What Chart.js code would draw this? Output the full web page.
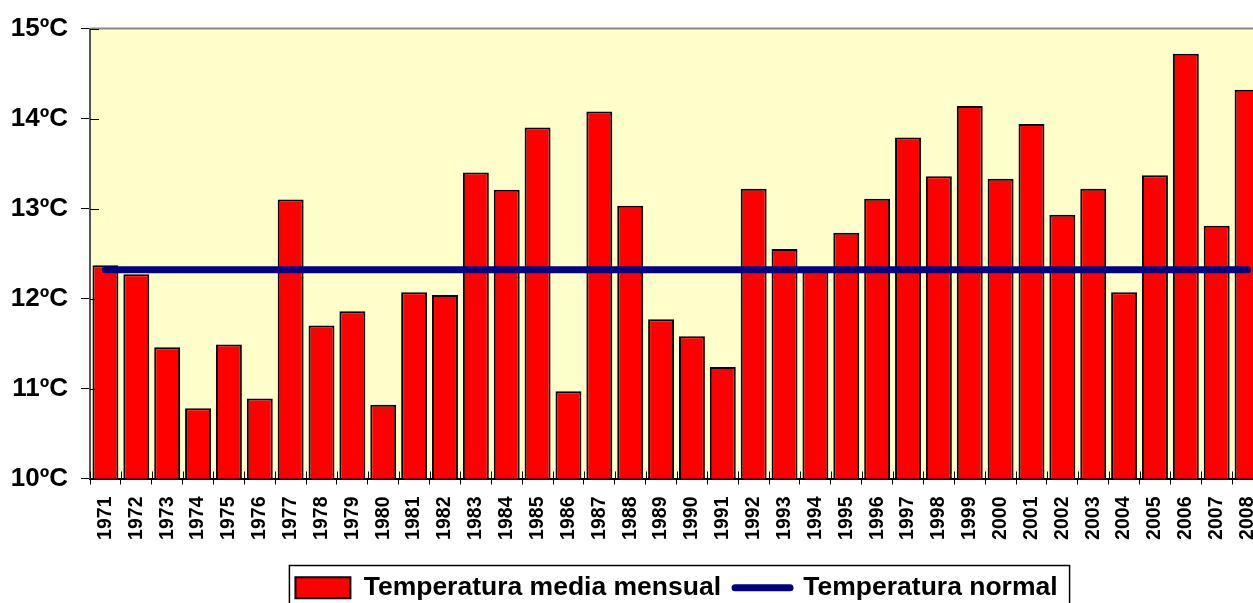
<!DOCTYPE html>
<html>
<head>
<meta charset="utf-8">
<script src="https://cdn.jsdelivr.net/npm/chart.js@4.4.1/dist/chart.umd.min.js"></script>
<style>
	html, body { margin: 0; padding: 0; background: #fff; overflow: hidden; }
	#wrap { width: 1264px; height: 611px; }
</style>
</head>
<body>
<div id="wrap"><canvas id="chart"></canvas></div>
<script>
	// years on the x axis
	var years = ['1971', '1972', '1973', '1974', '1975', '1976', '1977', '1978', '1979', '1980',
		'1981', '1982', '1983', '1984', '1985', '1986', '1987', '1988', '1989', '1990',
		'1991', '1992', '1993', '1994', '1995', '1996', '1997', '1998', '1999', '2000',
		'2001', '2002', '2003', '2004', '2005', '2006', '2007', '2008'];

	// yearly mean temperature (ºC)
	var mediaMensual = [12.37, 12.27, 11.46, 10.78, 11.49, 10.89, 13.10, 11.70, 11.86, 10.82,
		12.07, 12.04, 13.40, 13.21, 13.90, 10.97, 14.08, 13.03, 11.77, 11.58,
		11.24, 13.22, 12.55, 12.35, 12.73, 13.11, 13.79, 13.36, 14.14, 13.33,
		13.94, 12.93, 13.22, 12.07, 13.37, 14.72, 12.81, 14.32];

	// normal temperature, flat line
	var normal = [12.32, 12.32, 12.32, 12.32, 12.32, 12.32, 12.32, 12.32, 12.32, 12.32,
		12.32, 12.32, 12.32, 12.32, 12.32, 12.32, 12.32, 12.32, 12.32, 12.32,
		12.32, 12.32, 12.32, 12.32, 12.32, 12.32, 12.32, 12.32, 12.32, 12.32,
		12.32, 12.32, 12.32, 12.32, 12.32, 12.32, 12.32, 12.32];

	var yMin = 10;
	var yMax = 15;
	var yUnit = 'ºC';

	var seriesNames = ['Temperatura media mensual', 'Temperatura normal'];

	var FONT = "'Liberation Sans', Arial, sans-serif";

	/**
	 * plot background, frame, inner tick marks and legend box
	 */
	var plotDecor = {
		id: 'plotDecor',
		beforeDraw: function(chart) {
			var ctx = chart.ctx;
			var a = chart.chartArea;
			ctx.save();
			ctx.fillStyle = '#FFFFCC';
			ctx.fillRect(a.left, a.top, a.right - a.left, a.bottom - a.top);
			ctx.restore();
		},
		beforeDatasetsDraw: function(chart) {
			var ctx = chart.ctx;
			var a = chart.chartArea;
			ctx.save();
			// top frame line
			ctx.strokeStyle = '#888888';
			ctx.lineWidth = 2;
			ctx.beginPath();
			ctx.moveTo(a.left, a.top);
			ctx.lineTo(a.right, a.top);
			ctx.stroke();
			// tick marks crossing into the plot
			ctx.strokeStyle = '#000';
			ctx.lineWidth = 1;
			var y = chart.scales.y;
			y.ticks.forEach(function(t) {
				var py = Math.round(y.getPixelForValue(t.value)) + 0.5;
				ctx.beginPath();
				ctx.moveTo(a.left, py);
				ctx.lineTo(a.left + 9, py);
				ctx.stroke();
			});
			var x = chart.scales.x;
			var step = x.getPixelForValue(1) - x.getPixelForValue(0);
			for (var i = 0; i <= years.length; i++) {
				var px = Math.round(x.getPixelForValue(i) - step / 2) + 0.5;
				ctx.beginPath();
				ctx.moveTo(px, a.bottom);
				ctx.lineTo(px, a.bottom - 7);
				ctx.stroke();
			}
			ctx.restore();
		},
		afterDraw: function(chart) {
			var hb = chart.legend.legendHitBoxes;
			if (!hb || !hb.length) {
				return;
			}
			var last = hb[hb.length - 1];
			var left = hb[0].left - 6;
			var right = last.left + last.width + 12;
			var top = hb[0].top - 9;
			var bottom = hb[0].top + hb[0].height + 12;
			var ctx = chart.ctx;
			ctx.save();
			ctx.strokeStyle = '#000';
			ctx.lineWidth = 1.5;
			ctx.strokeRect(left, top, right - left, bottom - top);
			ctx.restore();
		}
	};

	var ctx = document.getElementById('chart');
	var chart = new Chart(ctx, {
		data: {
			labels: years,
			datasets: [
				{
					type: 'bar',
					label: seriesNames[0],
					data: mediaMensual,
					backgroundColor: '#FF0000',
					borderColor: '#000000',
					borderWidth: 2,
					barPercentage: 0.84,
					categoryPercentage: 1.0,
					order: 2
				},
				{
					type: 'line',
					label: seriesNames[1],
					data: normal,
					borderColor: '#000080',
					backgroundColor: '#000080',
					borderWidth: 7,
					borderCapStyle: 'round',
					pointRadius: 0,
					pointHoverRadius: 0,
					fill: false,
					order: 1
				}
			]
		},
		options: {
			responsive: true,
			maintainAspectRatio: false,
			animation: false,
			events: [],
			layout: {
				padding: { left: 0, top: 28, right: 1, bottom: 0 }
			},
			scales: {
				x: {
					type: 'category',
					offset: true,
					grid: {
						offset: true,
						drawOnChartArea: false,
						tickLength: 6,
						tickColor: '#000'
					},
					border: { color: '#000', width: 2 },
					ticks: {
						autoSkip: false,
						minRotation: 90,
						maxRotation: 90,
						padding: 12,
						color: '#000',
						font: { family: FONT, weight: 'bold', size: 19.5 }
					},
					afterFit: function(scale) {
						scale.height = 82;
						scale.paddingLeft = 0;
						scale.paddingRight = 0;
					}
				},
				y: {
					min: yMin,
					max: yMax,
					grid: {
						drawOnChartArea: false,
						tickLength: 9,
						tickColor: '#000'
					},
					border: { color: '#555', width: 2 },
					ticks: {
						stepSize: 1,
						padding: 13,
						color: '#000',
						font: { family: FONT, weight: 'bold', size: 26 },
						callback: function(v) {
							return v + yUnit;
						}
					},
					afterFit: function(scale) {
						scale.width = 90;
					}
				}
			},
			plugins: {
				tooltip: { enabled: false },
				legend: {
					position: 'bottom',
					fullSize: false,
					labels: {
						usePointStyle: true,
						pointStyleWidth: 55,
						boxHeight: 21,
						padding: 14,
						color: '#000',
						font: { family: FONT, weight: 'bold', size: 26.5 },
						generateLabels: function(chart) {
							var items = Chart.defaults.plugins.legend.labels.generateLabels(chart);
							items.sort(function(a, b) { return a.datasetIndex - b.datasetIndex; });
							items.forEach(function(item) {
								if (chart.data.datasets[item.datasetIndex].type === 'line') {
									item.pointStyle = 'line';
									item.lineCap = 'round';
								} else {
									item.pointStyle = 'rect';
								}
							});
							return items;
						}
					}
				}
			}
		},
		plugins: [plotDecor]
	});
</script>
</body>
</html>
